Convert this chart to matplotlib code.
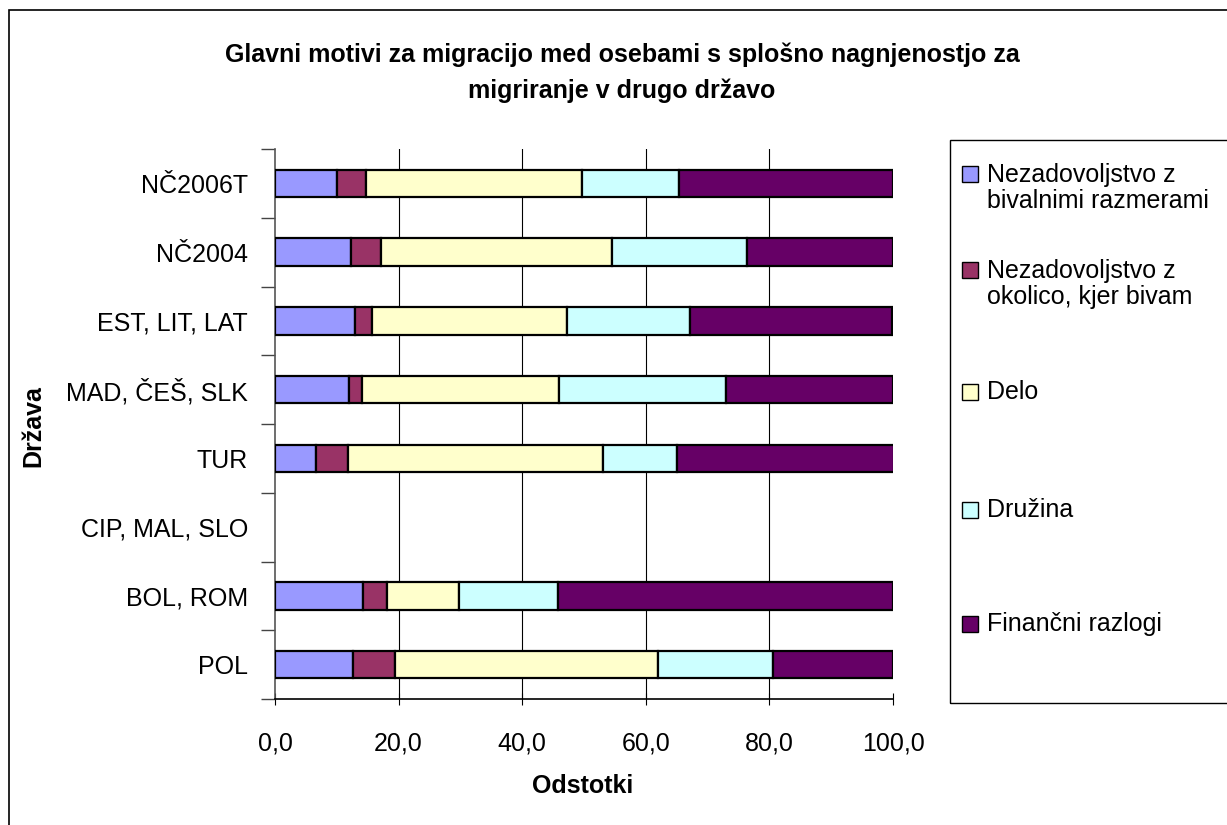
import matplotlib
matplotlib.use("Agg")
import matplotlib.pyplot as plt
from matplotlib.patches import Rectangle
import numpy as np

plt.rcParams['font.family'] = ['Liberation Sans', 'DejaVu Sans']

categories = ["NČ2006T", "NČ2004", "EST, LIT, LAT", "MAD, ČEŠ, SLK", "TUR",
              "CIP, MAL, SLO", "BOL, ROM", "POL"]
series_names = ["Nezadovoljstvo z\nbivalnimi razmerami",
                "Nezadovoljstvo z\nokolico, kjer bivam",
                "Delo", "Družina", "Finančni razlogi"]
bivalne = [10.1, 12.3, 12.9, 11.9, 6.7, 0.0, 14.3, 12.6]
okolica = [4.6, 4.8, 2.8, 2.2, 5.1, 0.0, 3.9, 6.8]
delo = [34.9, 37.5, 31.5, 31.8, 41.2, 0.0, 11.5, 42.6]
druzina = [15.7, 21.7, 20.0, 27.1, 12.1, 0.0, 16.1, 18.6]
financni = [34.7, 23.7, 32.7, 27.0, 35.0, 0.0, 54.2, 19.4]
xticks = [0, 20, 40, 60, 80, 100]
xtick_labels = ["0,0", "20,0", "40,0", "60,0", "80,0", "100,0"]
colors = ["#9999FF", "#993366", "#FFFFCC", "#CCFFFF", "#660066"]

W, H = 1227, 825
FS = 18
fig = plt.figure(figsize=(W / 100, H / 100), dpi=100)

def fx(px):
    return px / W

def fy(py):
    return 1 - py / H

# outer chart border
fig.add_artist(Rectangle((fx(9), -0.01), 1.0, fy(10) + 0.01,
                         transform=fig.transFigure, fill=False,
                         edgecolor="black", lw=1.2))

ax = fig.add_axes([fx(275), fy(699), fx(893) - fx(275), fy(149) - fy(699)])
y = np.arange(len(categories))
left = np.zeros(len(categories))
for vals, col, name in zip([bivalne, okolica, delo, druzina, financni], colors, series_names):
    v = np.array(vals)
    m = v > 0
    ax.barh(y[m], v[m], left=left[m], height=0.4, color=col, edgecolor="black",
            linewidth=1.6, label=name, zorder=3)
    left += v

ax.set_xlim(0, 100)
ax.set_ylim(len(categories) - 0.5, -0.5)
ax.set_xticks(xticks)
ax.set_xticklabels(xtick_labels, fontsize=FS)
for gx in xticks[1:-1]:
    ax.axvline(gx, color="black", lw=0.8, zorder=1)
ax.set_yticks(y)
ax.set_yticklabels(categories, fontsize=FS)
ax.set_yticks(np.arange(-0.5, len(categories)), minor=True)
ax.tick_params(axis="y", which="major", length=0, pad=19.5)
ax.tick_params(axis="y", which="minor", length=10, width=1, color="#444444")
ax.tick_params(axis="x", which="major", direction="inout", length=9, width=0.8, pad=19)
ax.spines["top"].set_visible(False)
ax.spines["right"].set_visible(False)
ax.spines["left"].set_color("#555555")
ax.spines["left"].set_linewidth(1.2)
ax.spines["bottom"].set_linewidth(1.2)

fig.text(fx(583), fy(786), "Odstotki", fontsize=FS, fontweight="bold",
         ha="center", va="center")
fig.text(fx(33), fy(426), "Država", rotation=90, fontsize=FS,
         fontweight="bold", ha="center", va="center")

fig.text(fx(622), fy(62),
         "Glavni motivi za migracijo med osebami s splošno nagnjenostjo za",
         fontsize=FS, fontweight="bold", ha="center", va="baseline")
fig.text(fx(622), fy(98), "migriranje v drugo državo",
         fontsize=FS, fontweight="bold", ha="center", va="baseline")

# legend box
fig.add_artist(Rectangle((fx(950), fy(703)), 0.5, fy(140) - fy(703),
                         transform=fig.transFigure, fill=False,
                         edgecolor="black", lw=1.0))
leg_text_y = [188, 284, 392, 510, 624]
leg_box_y = [174, 270, 392, 510, 624]
for name, col, ty, by in zip(series_names, colors, leg_text_y, leg_box_y):
    fig.add_artist(Rectangle((fx(962), fy(by + 8)), 16 / W, 16 / H,
                             transform=fig.transFigure, facecolor=col,
                             edgecolor="black", lw=1.0))
    fig.text(fx(987), fy(ty), name, fontsize=FS, ha="left", va="center",
             linespacing=1.1)

fig.savefig("out.png", dpi=100)
